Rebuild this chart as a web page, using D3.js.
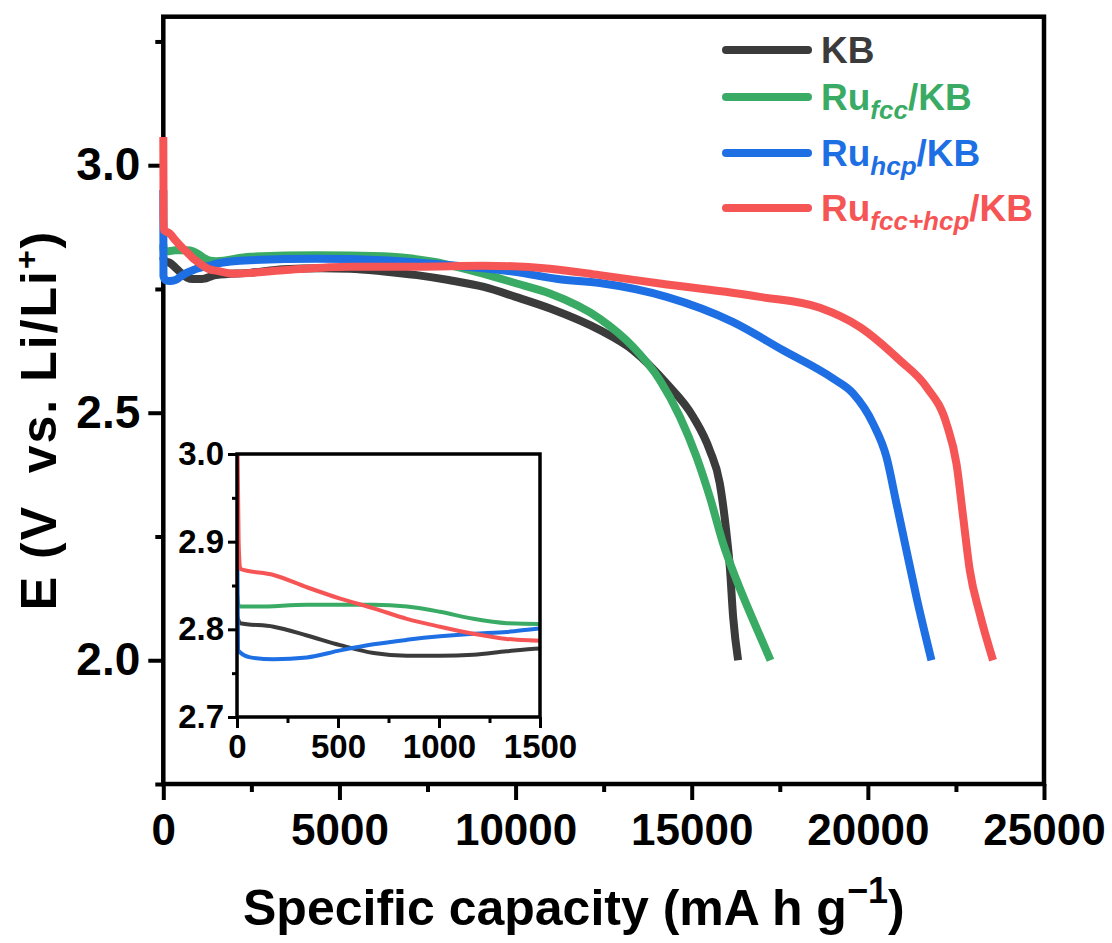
<!DOCTYPE html>
<html>
<head>
<meta charset="utf-8">
<script src="https://cdn.jsdelivr.net/npm/d3@7"></script>
<style>
  body { margin: 0; background: #fff; }
  text { font-family: "Liberation Sans", Arial, sans-serif; font-weight: bold; }
</style>
</head>
<body>
<svg id="chart" width="1112" height="943"></svg>
<script>
// discharge curves, [capacity mA h g-1, E V]
const kbData = [[0, 2.815], [16, 2.807], [181, 2.803], [346, 2.793], [511, 2.782], [676, 2.773], [841, 2.770],
  [1005, 2.770], [1170, 2.771], [1335, 2.775], [1500, 2.778], [2500, 2.783], [3400, 2.790], [4500, 2.792],
  [5300, 2.791], [6200, 2.786], [7200, 2.778], [8100, 2.768], [9100, 2.754], [10000, 2.734], [11000, 2.710],
  [12390, 2.667], [13337, 2.626], [14285, 2.559], [15040, 2.492], [15513, 2.424], [15797, 2.357],
  [15987, 2.256], [16081, 2.189], [16176, 2.087], [16317, 2.0]]

const fccData = [[0, 2.840], [10, 2.826], [99, 2.826], [346, 2.828], [676, 2.828], [841, 2.826], [1005, 2.820],
  [1170, 2.812], [1335, 2.807], [1500, 2.806], [2460, 2.815], [4353, 2.818], [6243, 2.816], [7662, 2.805],
  [9080, 2.781], [10029, 2.761], [10974, 2.741], [12392, 2.690], [13337, 2.633], [14095, 2.566],
  [14663, 2.492], [15136, 2.411], [15513, 2.330], [15891, 2.236], [16271, 2.162], [16743, 2.081], [17236, 2.0]]

const hcpData = [[0, 2.950], [5, 2.776], [66, 2.768], [181, 2.766], [346, 2.768], [511, 2.776], [676, 2.783],
  [841, 2.788], [1005, 2.792], [1170, 2.795], [1335, 2.797], [1500, 2.801], [2460, 2.808], [4353, 2.811],
  [6243, 2.808], [8136, 2.798], [10029, 2.784], [11200, 2.770], [12392, 2.762], [14285, 2.734],
  [16176, 2.683], [17594, 2.626], [19013, 2.569], [19580, 2.539], [20148, 2.478], [20526, 2.411],
  [20811, 2.317], [21095, 2.222], [21378, 2.128], [21805, 2.0]]

const mixData = [[0, 3.057], [8, 2.900], [16, 2.869], [181, 2.862], [346, 2.848], [511, 2.835], [676, 2.824],
  [841, 2.812], [1005, 2.803], [1170, 2.795], [1335, 2.789], [1500, 2.787], [1987, 2.781], [3405, 2.788],
  [5298, 2.795], [7190, 2.795], [9080, 2.797], [10974, 2.791], [12392, 2.778], [14094, 2.761],
  [16936, 2.734], [18640, 2.712], [19775, 2.673], [20906, 2.606], [21663, 2.552], [22231, 2.478],
  [22515, 2.397], [22704, 2.290], [22893, 2.182], [23177, 2.094], [23553, 2.0]]

const seriesData = [kbData, fccData, hcpData, mixData]
const seriesColors = ["#3b3b3b", "#3aab64", "#1d6fe3", "#f65555"]
const legendBase = ["KB", "Ru", "Ru", "Ru"]
const legendSub = ["", "fcc", "hcp", "fcc+hcp"]

const xTicks = [0, 5000, 10000, 15000, 20000, 25000]
const xMinor = [2500, 7500, 12500, 17500, 22500]
const yTicks = [2.0, 2.5, 3.0]
const yMinor = [1.75, 2.25, 2.75, 3.25]
const insetXTicks = [0, 500, 1000, 1500]
const insetXMinor = [250, 750, 1250]
const insetYTicks = [2.7, 2.8, 2.9, 3.0]
const insetYMinor = [2.75, 2.85, 2.95]

const svg = d3.select("#chart")
svg.append("rect").attr("width", 1112).attr("height", 943).attr("fill", "#fff")

const x = d3.scaleLinear().domain([0, 25000]).range([163.3, 1044])
const y = d3.scaleLinear().domain([1.75, 3.3]).range([784, 16.7])

const styleAxis = (g, size) => {
  g.select(".domain").remove()
  g.selectAll("line").attr("stroke", "#000").attr("stroke-width", 4)
  g.selectAll("text").attr("fill", "#000").style("font-size", size + "px")
}

// main axes
svg.append("g").attr("transform", `translate(0,${y.range()[0]})`)
  .call(d3.axisBottom(x).tickValues(xMinor).tickSize(8).tickFormat(""))
  .call(g => styleAxis(g, 44))
svg.append("g").attr("transform", `translate(0,${y.range()[0]})`)
  .call(d3.axisBottom(x).tickValues(xTicks).tickSize(16).tickPadding(14).tickFormat(d3.format("d")))
  .call(g => styleAxis(g, 44))
svg.append("g").attr("transform", `translate(${x.range()[0]},0)`)
  .call(d3.axisLeft(y).tickValues(yMinor).tickSize(8).tickFormat(""))
  .call(g => styleAxis(g, 44))
svg.append("g").attr("transform", `translate(${x.range()[0]},0)`)
  .call(d3.axisLeft(y).tickValues(yTicks).tickSize(15).tickPadding(8).tickFormat(d3.format(".1f")))
  .call(g => styleAxis(g, 46))

svg.append("rect")
  .attr("x", x.range()[0]).attr("y", y.range()[1])
  .attr("width", x.range()[1] - x.range()[0]).attr("height", y.range()[0] - y.range()[1])
  .attr("fill", "none").attr("stroke", "#000").attr("stroke-width", 4.5)

const line = d3.line().x(d => x(d[0])).y(d => y(d[1])).curve(d3.curveMonotoneX)

svg.append("g")
  .selectAll("path")
  .data(seriesData)
  .join("path")
  .attr("d", d => line(d))
  .attr("fill", "none")
  .attr("stroke", (d, i) => seriesColors[i])
  .attr("stroke-width", 8)
  .attr("stroke-linejoin", "round")

// inset
const ix = d3.scaleLinear().domain([0, 1500]).range([237, 540])
const iy = d3.scaleLinear().domain([2.7, 3.0]).range([717, 454])

svg.append("rect")
  .attr("x", ix.range()[0]).attr("y", iy.range()[1])
  .attr("width", ix.range()[1] - ix.range()[0]).attr("height", iy.range()[0] - iy.range()[1])
  .attr("fill", "#fff")

svg.append("clipPath").attr("id", "insetClip")
  .append("rect")
  .attr("x", ix.range()[0]).attr("y", iy.range()[1])
  .attr("width", ix.range()[1] - ix.range()[0]).attr("height", iy.range()[0] - iy.range()[1])

const insetLine = d3.line().x(d => ix(d[0])).y(d => iy(d[1])).curve(d3.curveMonotoneX)

svg.append("g")
  .attr("clip-path", "url(#insetClip)")
  .selectAll("path")
  .data(seriesData)
  .join("path")
  .attr("d", d => insetLine(d.filter(p => p[0] < 2600)))
  .attr("fill", "none")
  .attr("stroke", (d, i) => seriesColors[i])
  .attr("stroke-width", 4)

const styleInset = g => {
  g.select(".domain").remove()
  g.selectAll("line").attr("stroke", "#000").attr("stroke-width", 3)
  g.selectAll("text").attr("fill", "#000").style("font-size", "33px")
}

svg.append("g").attr("transform", `translate(0,${iy.range()[0]})`)
  .call(d3.axisBottom(ix).tickValues(insetXMinor).tickSize(6).tickFormat(""))
  .call(styleInset)
svg.append("g").attr("transform", `translate(0,${iy.range()[0]})`)
  .call(d3.axisBottom(ix).tickValues(insetXTicks).tickSize(11).tickPadding(7).tickFormat(d3.format("d")))
  .call(styleInset)
svg.append("g").attr("transform", `translate(${ix.range()[0]},0)`)
  .call(d3.axisLeft(iy).tickValues(insetYMinor).tickSize(5).tickFormat(""))
  .call(styleInset)
svg.append("g").attr("transform", `translate(${ix.range()[0]},0)`)
  .call(d3.axisLeft(iy).tickValues(insetYTicks).tickSize(9).tickPadding(4).tickFormat(d3.format(".1f")))
  .call(styleInset)

svg.append("rect")
  .attr("x", ix.range()[0]).attr("y", iy.range()[1])
  .attr("width", ix.range()[1] - ix.range()[0]).attr("height", iy.range()[0] - iy.range()[1])
  .attr("fill", "none").attr("stroke", "#000").attr("stroke-width", 3.5)

// legend
const legendY = [50, 97, 153, 208]
const legend = svg.append("g")
  .selectAll("g")
  .data(legendBase)
  .join("g")
  .attr("transform", (d, i) => `translate(0,${legendY[i]})`)

legend.append("line")
  .attr("x1", 726).attr("x2", 808)
  .attr("stroke", (d, i) => seriesColors[i])
  .attr("stroke-width", 8)
  .attr("stroke-linecap", "round")

legend.append("text")
  .attr("x", 821).attr("y", 13)
  .attr("fill", (d, i) => seriesColors[i])
  .style("font-size", "37px")
  .each(function (d, i) {
    const t = d3.select(this)
    t.append("tspan").text(d)
    if (legendSub[i]) {
      t.append("tspan").text(legendSub[i])
        .attr("dy", 9).style("font-size", "26px").style("font-style", "italic")
      t.append("tspan").text("/KB").attr("dy", -9)
    }
  })

// axis titles
const xTitle = svg.append("text")
  .attr("x", 243).attr("y", 925)
  .attr("fill", "#000")
  .style("font-size", "50px")
xTitle.append("tspan").text("Specific capacity (mA h g")
xTitle.append("tspan").text("\u22121").attr("dy", -22).style("font-size", "36px")
xTitle.append("tspan").text(")").attr("dy", 22)

const yTitle = svg.append("text")
  .attr("transform", "translate(56,420) rotate(-90)")
  .attr("text-anchor", "middle")
  .attr("fill", "#000")
  .style("font-size", "50px")
  .style("letter-spacing", "2px")
  .attr("xml:space", "preserve")
yTitle.append("tspan").text("E (V  vs. Li/Li")
yTitle.append("tspan").text("+").attr("dy", -19).style("font-size", "32px")
yTitle.append("tspan").text(")").attr("dy", 19)
</script>
</body>
</html>
